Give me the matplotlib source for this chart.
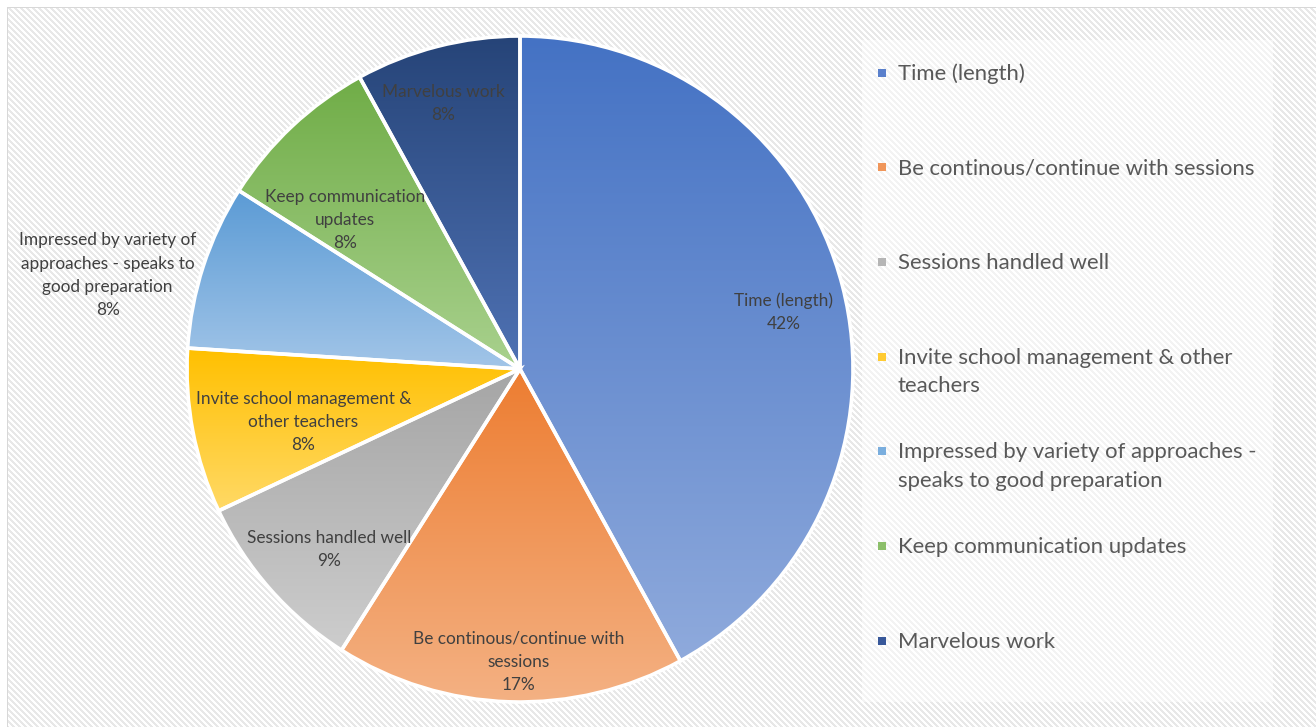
import numpy as np
import matplotlib
matplotlib.use("Agg")
import matplotlib.pyplot as plt
from matplotlib.colors import LinearSegmentedColormap
from matplotlib.patches import Rectangle

# feedback categories and their shares (%)
categories = [
    "Time (length)",
    "Be continous/continue with sessions",
    "Sessions handled well",
    "Invite school management & other teachers",
    "Impressed by variety of approaches - speaks to good preparation",
    "Keep communication updates",
    "Marvelous work",
]
shares = [42, 17, 9, 8, 8, 8, 8]

# wrapped text for the slice labels and the legend
slice_names = [
    "Time (length)",
    "Be continous/continue with\nsessions",
    "Sessions handled well",
    "Invite school management &\nother teachers",
    "Impressed by variety of\napproaches - speaks to\ngood preparation",
    "Keep communication\nupdates",
    "Marvelous work",
]
legend_names = [
    "Time (length)",
    "Be continous/continue with sessions",
    "Sessions handled well",
    "Invite school management & other\nteachers",
    "Impressed by variety of approaches -\nspeaks to good preparation",
    "Keep communication updates",
    "Marvelous work",
]

# gradient (top colour, bottom colour) per slice
grad_top = ["#4472C4", "#ED7D31", "#A5A5A5", "#FFC000", "#5B9BD5", "#70AD47", "#264478"]
grad_bot = ["#8FAADC", "#F4B183", "#CDCDCD", "#FFD966", "#A2C5E8", "#A9D18E", "#4F72B4"]
legend_cols = ["#5A80CC", "#F0965A", "#B5B5B5", "#FFCB33", "#7AAEDE", "#8CBF6A", "#38589A"]

# label placement: distance in radii and angular nudge (deg, clockwise)
label_r = [0.81, 0.88, 0.79, 0.67, 1.27, 0.69, 0.83]
label_nudge = [2.3, -1.6, -2.0, -3.0, -5.2, -6.4, -1.8]

W, H = 1316, 727
FONT = "Lato"
plt.rcParams["font.family"] = [FONT, "DejaVu Sans"]

fig = plt.figure(figsize=(W / 100, H / 100), dpi=100)

# striped chart-area background with thin border
bg_ax = fig.add_axes([0, 0, 1, 1])
rows, cols = np.mgrid[0:H, 0:W]
stripe = ((cols - rows) % 6) < 3
img = np.ones((H, W, 3))
img[stripe] = 0.91
img[(rows < 7) | (cols < 7)] = 1.0
img[(rows == 7) & (cols >= 7)] = 0.85
img[(cols == 7) & (rows >= 7)] = 0.85
bg_ax.imshow(img, interpolation="nearest", aspect="auto", extent=[0, W, H, 0])
bg_ax.set_xlim(0, W)
bg_ax.set_ylim(H, 0)
bg_ax.axis("off")

# translucent legend panel
bg_ax.add_patch(Rectangle((862, 40), 411, 662, facecolor="white", alpha=0.5,
                          edgecolor="none", zorder=3))

# pie axes: centre (520, 369) px, radius 333 px
cx, cy, R = 520, 369, 333
ax = fig.add_axes([(cx - R) / W, (H - cy - R) / H, 2 * R / W, 2 * R / H])
ax.patch.set_visible(False)

wedges, _ = ax.pie(shares, startangle=90, counterclock=False, radius=1,
                   wedgeprops=dict(edgecolor="white", linewidth=2.6, facecolor="none"))

grad = np.linspace(0, 1, 256).reshape(-1, 1)
for i, w in enumerate(wedges):
    w.set_zorder(3)
    bb = w.get_path().get_extents()
    cmap = LinearSegmentedColormap.from_list("g%d" % i, [grad_top[i], grad_bot[i]])
    im = ax.imshow(grad, cmap=cmap, aspect="auto", origin="upper",
                   extent=[bb.x0, bb.x1, bb.y0, bb.y1], zorder=2)
    im.set_clip_path(w)

ax.set_xlim(-1.0, 1.0)
ax.set_ylim(-1.0, 1.0)
ax.set_aspect("equal")

# percentage labels near each slice's mid-angle
total = sum(shares)
start = 90.0
for i, v in enumerate(shares):
    sweep = 360.0 * v / total
    mid = np.deg2rad(start - sweep / 2 - label_nudge[i])
    start -= sweep
    x = label_r[i] * np.cos(mid)
    y = label_r[i] * np.sin(mid)
    ax.text(x, y, "%s\n%d%%" % (slice_names[i], round(100 * v / total)),
            ha="center", va="center", fontsize=12.4, color="#404040",
            linespacing=1.56, zorder=5)

# legend entries
leg_y0, leg_step = 72.5, 94.7
for i, name in enumerate(legend_names):
    yc = leg_y0 + i * leg_step
    bg_ax.add_patch(Rectangle((878, yc - 4), 8, 8, facecolor=legend_cols[i],
                              edgecolor="none", zorder=4))
    bg_ax.text(898, yc - 9, name, ha="left", va="top", fontsize=15.9,
               color="#595959", linespacing=1.55, zorder=5)

fig.savefig("out.png", dpi=100)
